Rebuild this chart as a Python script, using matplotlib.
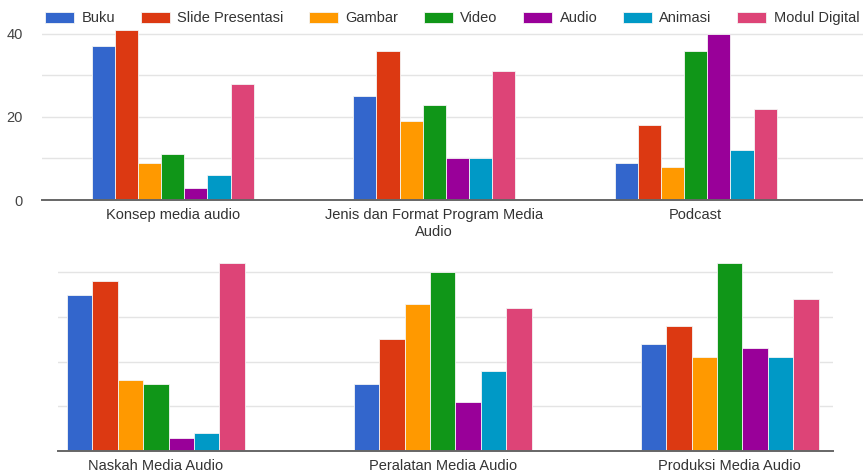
import matplotlib.pyplot as plt
import numpy as np

plt.rcParams['font.family'] = ['Liberation Sans', 'DejaVu Sans']
plt.rcParams['font.size'] = 10.5

series = ['Buku', 'Slide Presentasi', 'Gambar', 'Video', 'Audio', 'Animasi', 'Modul Digital']
colors = ['#3366cc', '#dc3912', '#ff9900', '#109618', '#990099', '#0099c6', '#dd4477']

top_cats = ['Konsep media audio', 'Jenis dan Format Program Media\nAudio', 'Podcast']
top_vals = [
    [37, 25, 9],   # Buku
    [41, 36, 18],  # Slide Presentasi
    [9, 19, 8],    # Gambar
    [11, 23, 36],  # Video
    [3, 10, 40],   # Audio
    [6, 10, 12],   # Animasi
    [28, 31, 22],  # Modul Digital
]

bot_cats = ['Naskah Media Audio', 'Peralatan Media Audio', 'Produksi Media Audio']
bot_vals = [
    [35, 15, 24],
    [38, 25, 28],
    [16, 33, 21],
    [15, 40, 42],
    [3, 11, 23],
    [4, 18, 21],
    [42, 32, 34],
]

fig = plt.figure(figsize=(8.63, 4.74), dpi=100)
ax1 = fig.add_axes([0.0487, 0.578, 0.9513, 0.368])
ax2 = fig.add_axes([0.0672, 0.0485, 0.898, 0.4148])

bw = 0.0885
offsets = (np.arange(len(series)) - 3) * bw


def draw(ax, cats, vals):
    x = np.arange(len(cats))
    bars = []
    for i, name in enumerate(series):
        b = ax.bar(x + offsets[i], vals[i], width=bw, color=colors[i],
                   edgecolor='#f4f4f4', linewidth=0.6, label=name, zorder=3)
        bars.append(b)
    ax.set_xticks(x)
    ax.set_xticklabels(cats, color='#333333')
    ax.tick_params(axis='x', length=0, pad=6)
    ax.tick_params(axis='y', length=0, colors='#444444', pad=14)
    for s in ['top', 'right', 'left']:
        ax.spines[s].set_visible(False)
    ax.spines['bottom'].set_color('#666666')
    ax.spines['bottom'].set_linewidth(1.4)
    ax.spines['bottom'].set_zorder(4)
    ax.set_yticks([10, 20, 30, 40], minor=False)
    ax.grid(axis='y', color='#e4e4e4', linewidth=1, zorder=0)
    return bars


bars = draw(ax1, top_cats, top_vals)
ax1.set_xlim(-0.5, 2.64)
ax1.set_ylim(0, 42)
ax1.set_yticks([0, 10, 20, 30, 40])
ax1.set_yticklabels(['0', '', '20', '', '40'])

draw(ax2, bot_cats, bot_vals)
ax2.set_xlim(-0.341, 2.36)
ax2.set_ylim(0, 44)
ax2.set_yticklabels([])

fig.legend(handles=bars, labels=series, loc='upper left',
           bbox_to_anchor=(0.0487, 0.982), ncol=7, frameon=False,
           handlelength=2.0, handleheight=0.8, handletextpad=0.5,
           columnspacing=1.75, borderaxespad=0, borderpad=0.2,
           labelcolor='#333333')

plt.savefig('out.png', dpi=100, facecolor='white')
plt.close()
